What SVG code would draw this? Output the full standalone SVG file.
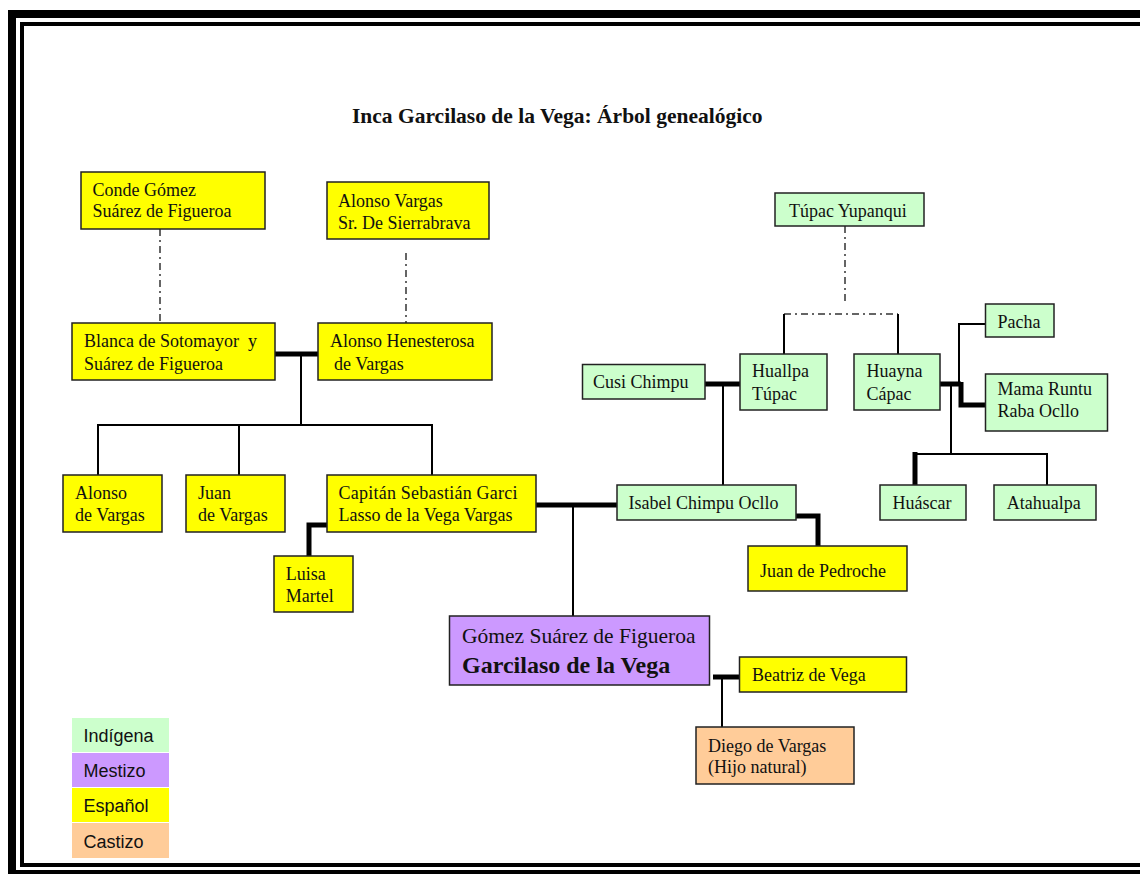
<svg xmlns="http://www.w3.org/2000/svg" width="1140" height="874" viewBox="0 0 1140 874">
<style>
.n{stroke:#222;stroke-width:1.5}
.es{fill:#FFFF00}
.in{fill:#CCFFCC}
.me{fill:#CC99FF}
.ca{fill:#FFCC99}
text{font-family:"Liberation Serif","Times New Roman",serif;font-size:18px;fill:#111}
.lg{font-family:"Liberation Sans",Arial,sans-serif;font-size:18px}
.thin{stroke:#000;stroke-width:2;fill:none}
.thick{stroke:#000;stroke-width:5;fill:none}
.dd{stroke:#333;stroke-width:1.5;stroke-dasharray:7 4 2 4;fill:none}
</style>
<rect width="1140" height="874" fill="#fff"/>
<g id="frame" fill="none" stroke="#000">
<rect x="12" y="14" width="1150" height="860" stroke-width="8"/>
<rect x="22" y="24" width="1140" height="841" stroke-width="4"/>
</g>
<text id="title" x="352" y="123" style="font-size:21.5px;font-weight:bold">Inca Garcilaso de la Vega: Árbol genealógico</text>
<g id="connectors">
<line class="dd" x1="160" y1="229" x2="160" y2="323"/>
<line class="dd" x1="406" y1="253" x2="406" y2="323"/>
<line class="dd" x1="845" y1="226" x2="845" y2="304"/>
<line class="dd" x1="784" y1="314" x2="898" y2="314"/>
<line class="thin" x1="784" y1="314" x2="784" y2="354"/>
<line class="thin" x1="898" y1="314" x2="898" y2="354"/>
<line class="thin" x1="301" y1="354" x2="301" y2="425"/>
<polyline class="thin" points="98,475 98,425 432,425 432,475"/>
<line class="thin" x1="239" y1="425" x2="239" y2="475"/>
<line class="thin" x1="573" y1="505" x2="573" y2="616"/>
<line class="thin" x1="723" y1="384" x2="723" y2="485"/>
<line class="thin" x1="951" y1="384" x2="951" y2="454"/>
<polyline class="thin" points="915,454 1047,454 1047,485"/>
<polyline class="thin" points="985,324 959,324 959,384"/>
<line class="thin" x1="722" y1="677" x2="722" y2="727"/>
<line class="thick" x1="275" y1="354" x2="318" y2="354"/>
<polyline class="thick" points="327,525 309,525 309,556"/>
<line class="thick" x1="536" y1="505" x2="617" y2="505"/>
<line class="thick" x1="705" y1="384" x2="740" y2="384"/>
<line class="thick" x1="940" y1="384" x2="961" y2="384"/>
<polyline class="thick" points="961,382 961,405 985,405"/>
<line class="thick" x1="915" y1="452" x2="915" y2="485"/>
<polyline class="thick" points="793,516 818,516 818,546"/>
<line class="thick" x1="713" y1="677" x2="739" y2="677"/>
</g>
<g id="conde"><rect class="n es" x="81" y="172" width="184" height="57"/><text x="92.5" y="196">Conde Gómez</text><text x="92.5" y="217">Suárez de Figueroa</text></g>
<g id="alonso-vargas"><rect class="n es" x="327" y="182" width="162" height="57"/><text x="338" y="207">Alonso Vargas</text><text x="338" y="229">Sr. De Sierrabrava</text></g>
<g id="blanca"><rect class="n es" x="72" y="323" width="203" height="57"/><text x="84" y="347" xml:space="preserve">Blanca de Sotomayor  y</text><text x="84" y="370">Suárez de Figueroa</text></g>
<g id="alonso-henesterosa"><rect class="n es" x="318" y="323" width="174" height="57"/><text x="330" y="347">Alonso Henesterosa</text><text x="334" y="370">de Vargas</text></g>
<g id="alonso-de-vargas"><rect class="n es" x="63" y="475" width="99" height="57"/><text x="75" y="499">Alonso</text><text x="75" y="521">de Vargas</text></g>
<g id="juan-de-vargas"><rect class="n es" x="186" y="475" width="99" height="57"/><text x="198" y="499">Juan</text><text x="198" y="521">de Vargas</text></g>
<g id="capitan"><rect class="n es" x="327" y="475" width="209" height="57"/><text x="338.5" y="499" textLength="179" lengthAdjust="spacing">Capitán Sebastián Garci</text><text x="338.5" y="521">Lasso de la Vega Vargas</text></g>
<g id="luisa"><rect class="n es" x="274" y="556" width="79" height="56"/><text x="285.7" y="580">Luisa</text><text x="285.7" y="602">Martel</text></g>
<g id="gomez"><rect class="n me" x="449.5" y="616" width="260" height="69"/><text x="462" y="643" style="font-size:21.5px">Gómez Suárez de Figueroa</text><text x="462" y="673" style="font-size:24px;font-weight:bold">Garcilaso de la Vega</text></g>
<g id="isabel"><rect class="n in" x="617" y="485" width="179" height="35"/><text x="628.5" y="509">Isabel Chimpu Ocllo</text></g>
<g id="juan-pedroche"><rect class="n es" x="748" y="546" width="159" height="45"/><text x="760" y="577">Juan de Pedroche</text></g>
<g id="beatriz"><rect class="n es" x="739.5" y="657" width="167" height="35"/><text x="752" y="681">Beatriz de Vega</text></g>
<g id="diego"><rect class="n ca" x="696" y="727" width="158" height="57"/><text x="708" y="752">Diego de Vargas</text><text x="708" y="773">(Hijo natural)</text></g>
<g id="tupac-yupanqui"><rect class="n in" x="775" y="193" width="149" height="33"/><text x="789" y="217">Túpac Yupanqui</text></g>
<g id="cusi"><rect class="n in" x="582.5" y="364.5" width="122.5" height="34.5"/><text x="593" y="388">Cusi Chimpu</text></g>
<g id="huallpa"><rect class="n in" x="740" y="354" width="87" height="56"/><text x="752" y="377">Huallpa</text><text x="752" y="400">Túpac</text></g>
<g id="huayna"><rect class="n in" x="854" y="354" width="86" height="56"/><text x="866.5" y="377">Huayna</text><text x="866.5" y="400">Cápac</text></g>
<g id="pacha"><rect class="n in" x="985.5" y="304" width="68.5" height="33"/><text x="997.5" y="328">Pacha</text></g>
<g id="mama-runtu"><rect class="n in" x="985.5" y="374" width="122" height="57"/><text x="997.5" y="395">Mama Runtu</text><text x="997.5" y="417">Raba Ocllo</text></g>
<g id="huascar"><rect class="n in" x="880" y="485" width="86" height="35"/><text x="892.5" y="509">Huáscar</text></g>
<g id="atahualpa"><rect class="n in" x="994" y="485" width="102" height="35"/><text x="1006.7" y="509">Atahualpa</text></g>
<g id="legend">
<rect class="in" x="72" y="718" width="97" height="34"/><text class="lg" x="83.5" y="742">Indígena</text>
<rect class="me" x="72" y="753" width="97" height="34"/><text class="lg" x="83.5" y="777">Mestizo</text>
<rect class="es" x="72" y="788" width="97" height="34"/><text class="lg" x="83.5" y="812">Español</text>
<rect class="ca" x="72" y="823" width="97" height="35"/><text class="lg" x="83.5" y="848">Castizo</text>
</g>
</svg>
